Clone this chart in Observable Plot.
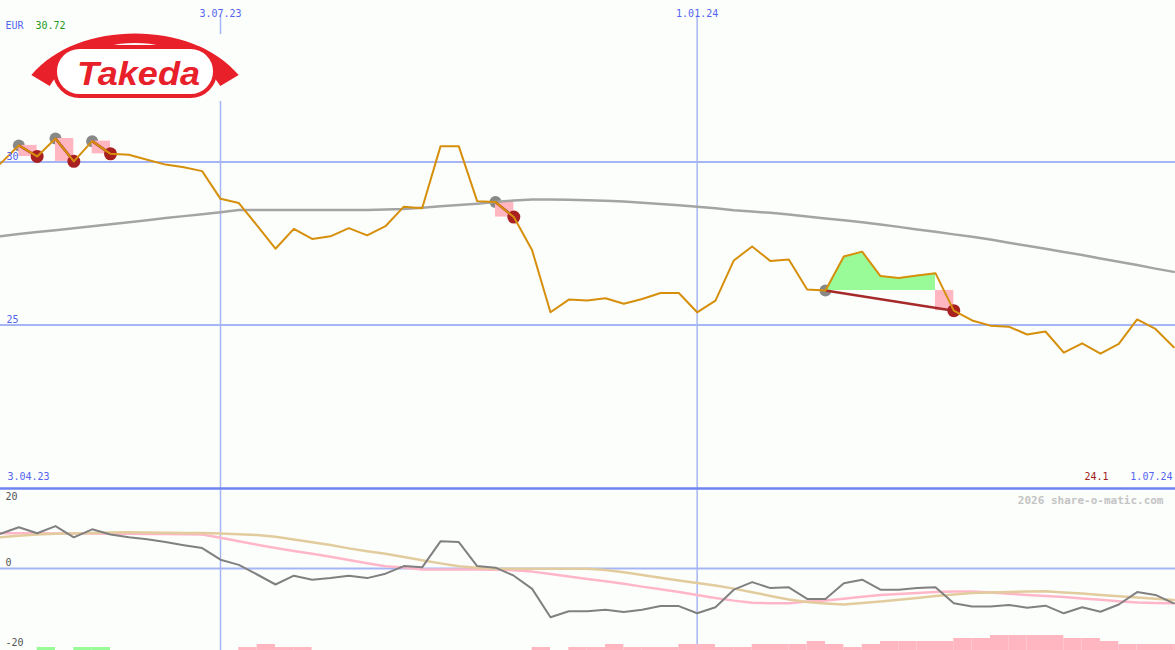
<!DOCTYPE html>
<html><head><meta charset="utf-8">
<script src="https://cdn.jsdelivr.net/npm/d3@7"></script>
<script src="https://cdn.jsdelivr.net/npm/@observablehq/plot@0.6"></script>
<style>
html,body{margin:0;padding:0;background:#fcfefc;width:1175px;height:650px;overflow:hidden}
#chart svg{display:block}
</style></head><body><div id="chart"></div>
<script>
// ---- data (weekly) ----
const startWeek = "2023-04-10";
const price = [29.95,30.51,30.17,30.72,30.02,30.64,30.25,30.22,30.07,29.92,
  29.84,29.72,28.87,28.74,28.05,27.34,27.95,27.64,27.72,27.97,
  27.75,28.03,28.63,28.58,30.48,30.48,28.80,28.77,28.31,27.29,
  25.39,25.78,25.75,25.82,25.65,25.80,25.98,25.98,25.39,25.75,
  26.98,27.41,26.96,27.01,26.09,26.06,27.10,27.25,26.50,26.44,
  26.52,26.59,25.44,25.14,24.98,24.95,24.71,24.80,24.15,24.44,
  24.12,24.42,25.17,24.88,24.32];
const ma200 = [27.72,27.79,27.85,27.91,27.97,28.03,28.09,28.15,28.21,28.28,
  28.34,28.40,28.46,28.53,28.53,28.53,28.53,28.53,28.53,28.53,
  28.53,28.54,28.56,28.60,28.64,28.68,28.72,28.77,28.82,28.85,
  28.85,28.84,28.83,28.81,28.79,28.75,28.71,28.67,28.63,28.58,
  28.52,28.48,28.44,28.39,28.33,28.27,28.21,28.15,28.08,28.01,
  27.93,27.86,27.78,27.71,27.62,27.52,27.43,27.34,27.24,27.15,
  27.04,26.94,26.84,26.73,26.63];
const momentum = [8.7,10.3,8.8,10.6,7.8,9.8,8.5,7.8,7.3,6.6,
  5.8,5.1,2.2,0.9,-1.5,-4.0,-1.8,-2.8,-2.4,-1.8,
  -2.4,-1.3,0.6,0.3,6.8,6.6,0.6,0.2,-1.8,-5.1,
  -12.2,-10.7,-10.7,-10.3,-10.9,-10.3,-9.4,-9.4,-11.2,-9.7,
  -5.3,-3.4,-4.9,-4.7,-7.6,-7.6,-3.7,-2.8,-5.3,-5.3,
  -4.9,-4.7,-8.7,-9.5,-9.5,-9.1,-9.8,-9.3,-11.2,-9.7,
  -10.8,-9.0,-5.9,-6.6,-8.7];
const signalPink = [8.83,8.83,8.8,8.78,8.75,8.73,8.7,8.68,8.65,8.6,
  8.55,8.48,7.68,6.83,5.95,5.15,4.4,3.68,2.95,2.13,
  1.33,0.55,0.25,-0.23,-0.25,-0.25,-0.25,-0.3,-0.43,-0.78,
  -1.35,-1.98,-2.6,-3.2,-3.83,-4.53,-5.2,-5.9,-6.63,-7.4,
  -8.03,-8.55,-8.68,-8.68,-8.25,-8.0,-7.55,-7.08,-6.65,-6.38,
  -6.1,-5.85,-5.75,-5.75,-6.0,-6.33,-6.6,-6.88,-7.15,-7.48,
  -7.8,-8.2,-8.48,-8.6,-8.68];
const signalTan = [7.83,8.2,8.53,8.68,8.78,8.9,9.03,9.08,9.03,8.95,
  8.9,8.85,8.73,8.55,8.35,7.93,7.25,6.55,5.88,5.03,
  4.33,3.7,2.85,2.05,1.28,0.55,0.18,-0.08,-0.08,-0.08,
  -0.08,-0.08,-0.08,-0.35,-0.93,-1.63,-2.3,-3.0,-3.65,-4.25,
  -5.03,-5.93,-6.85,-7.75,-8.38,-8.73,-8.98,-8.6,-8.23,-7.83,
  -7.38,-6.9,-6.5,-6.15,-5.98,-5.88,-5.75,-5.7,-5.98,-6.28,
  -6.63,-6.93,-7.23,-7.55,-7.9];
// bar levels per week: positive = green, negative = pink
const volumeLevels = [0,0,1,0,1,1,0,0,0,0,
  0,0,0,-1,-2,-1,-1,0,0,0,
  0,0,0,0,0,0,0,0,0,-1,
  0,-1,-1,-2,-1,-1,-1,-2,-2,-1,
  -1,-2,-2,-2,-3,-2,-1,-2,-3,-3,
  -3,-3,-4,-4,-5,-5,-5,-5,-4,-4,
  -3,-2,-2,-2,-2];
const entries = [1,3,5,27,45];
const exits   = [2,4,6,28,52];
const gridDates  = ["2023-07-03","2024-01-01"];
const gridLabels = ["3.07.23","1.01.24"];
const priceTicks = [30,25];
const oscTicks = [0,-20];
const oscTop = [20];
const currency = "EUR", highValue = "30.72", lastValue = "24.1";
const rangeStart = "3.04.23", rangeEnd = "1.07.24";
const credit = "2026 share-o-matic.com";

// ---- build ----
const t0 = new Date(startWeek);
const dates = price.map((_, i) => d3.utcDay.offset(t0, 7 * i));
const rows = price.map((p, i) => ({date: dates[i], next: d3.utcDay.offset(dates[i], 7), price: p, ma: ma200[i],
  mom: momentum[i], pink: signalPink[i], tan: signalTan[i], vol: volumeLevels[i]}));
const trades = entries.map((e, k) => ({entry: rows[e], exit: rows[exits[k]], prev: rows[exits[k] - 1]}));
const greenRows = entries.flatMap((e, k) => rows.slice(e, exits[k]).map(r => ({date: r.date, price: r.price, base: rows[e].price, trade: k})));
const grid = gridDates.map(d => new Date(d));

const FONT = "DejaVu Sans Mono";
const BG = "#fcfefc";
const BLUE = "#5464f0", GRID = "#a6b6f4";
const xScale = {type: "utc", domain: [dates[0], dates[dates.length - 1]], range: [0, 1173.3]};
const style = {background: "transparent", overflow: "visible", fontFamily: FONT};

const main = Plot.plot({
  width: 1175, height: 488, marginTop: 0, marginRight: 0, marginBottom: 0, marginLeft: 0,
  style, x: {...xScale, axis: null}, y: {domain: [19.985, 34.954], axis: null},
  marks: [
    Plot.ruleY(priceTicks, {stroke: GRID, strokeWidth: 2}),
    Plot.ruleX(grid, {stroke: GRID, strokeWidth: 1.5, insetTop: 15}),
    Plot.dot(trades, {x: t => t.entry.date, y: t => t.entry.price, r: 6, fill: "#888888"}),
    Plot.rect(trades, {x1: t => t.prev.date, x2: t => t.exit.date, y1: t => t.entry.price, y2: t => t.exit.price, fill: "#ffb6c1"}),
    Plot.areaY(greenRows, {x: "date", y1: "base", y2: "price", z: "trade", fill: "#98fb98"}),
    Plot.line(rows, {x: "date", y: "ma", stroke: "#a4a4a4", strokeWidth: 2.5}),
    Plot.link(trades, {x1: t => t.entry.date, y1: t => t.entry.price, x2: t => t.exit.date, y2: t => t.exit.price, stroke: "#a52a2a", strokeWidth: 2.5}),
    Plot.dot(trades, {x: t => t.exit.date, y: t => t.exit.price, r: 6.5, fill: "#a82020"}),
    Plot.line(rows, {x: "date", y: "price", stroke: "#d68f0a", strokeWidth: 2}),
    Plot.text(grid, {x: d => d, text: (d, i) => gridLabels[i], frameAnchor: "top", dy: 9, fill: BLUE, fontSize: 10}),
    Plot.text(priceTicks, {y: d => d, text: d => String(d), frameAnchor: "left", textAnchor: "start", dx: 6, dy: -5, fill: BLUE, fontSize: 10}),
    Plot.text([currency], {frameAnchor: "top-left", textAnchor: "start", dx: 5, dy: 21, fill: BLUE, fontSize: 10}),
    Plot.text([highValue], {frameAnchor: "top-left", textAnchor: "start", dx: 35, dy: 21, fill: "#229922", fontSize: 10}),
    Plot.text([rangeStart], {frameAnchor: "bottom-left", textAnchor: "start", dx: 7, dy: -9, fill: BLUE, fontSize: 10}),
    Plot.text([lastValue], {frameAnchor: "bottom-right", textAnchor: "end", dx: -67, dy: -9, fill: "#a01818", fontSize: 10}),
    Plot.text([rangeEnd], {frameAnchor: "bottom-right", textAnchor: "end", dx: -3, dy: -9, fill: BLUE, fontSize: 10})
  ]
});

const lower = Plot.plot({
  width: 1175, height: 162, marginTop: 0, marginRight: 0, marginBottom: 0, marginLeft: 0,
  style, x: {...xScale, axis: null}, y: {domain: [-20.5, 20], axis: null},
  marks: [
    Plot.ruleY(oscTicks.filter(d => d === 0), {stroke: GRID, strokeWidth: 2}),
    Plot.ruleX(grid, {stroke: GRID, strokeWidth: 1.5}),
    Plot.rect(rows.filter(r => r.vol > 0), {x1: "date", x2: "next", y1: () => -20.5, y2: r => -20.5 + 0.75 * r.vol, fill: "#98fb98"}),
    Plot.rect(rows.filter(r => r.vol < 0), {x1: "date", x2: "next", y1: () => -20.5, y2: r => -20.5 - 0.75 * r.vol, fill: "#ffb6c1"}),
    Plot.line(rows, {x: "date", y: "pink", stroke: "#ffb6c8", strokeWidth: 2.5}),
    Plot.line(rows, {x: "date", y: "tan", stroke: "#e2cc9e", strokeWidth: 2.5}),
    Plot.line(rows, {x: "date", y: "mom", stroke: "#808080", strokeWidth: 2}),
    Plot.ruleY(oscTop, {stroke: "#6f84f0", strokeWidth: 2.5}),
    Plot.text(oscTicks, {y: d => d, text: d => String(d), frameAnchor: "left", textAnchor: "start", dx: 5, dy: -6, fill: "#555555", fontSize: 10}),
    Plot.text(oscTop, {y: d => d, text: d => String(d), frameAnchor: "left", textAnchor: "start", dx: 5, dy: 8, fill: "#555555", fontSize: 10}),
    Plot.text([credit], {frameAnchor: "top-right", textAnchor: "end", dx: -12, dy: 8, fill: "#c4c4c4", fontSize: 11, fontWeight: "bold"})
  ]
});

const el = document.getElementById("chart");
el.appendChild(main);
el.appendChild(lower);

// ---- Takeda logo ----
const RED = "#e8202a";
const logo = d3.select(main).append("g");
logo.append("rect").attr("x", 30).attr("y", 34).attr("width", 212).attr("height", 67).attr("fill", BG);
logo.append("path")
  .attr("d", "M31.3,75 C55,47 95,33.5 135,33.5 C175,33.5 215,47 238.7,75 L220.3,86 C205,62 175,43 135,43 C95,43 65,62 49.7,86 Z")
  .attr("fill", RED);
logo.append("rect").attr("x", 55).attr("y", 47).attr("width", 160).attr("height", 49).attr("rx", 24.5)
  .attr("fill", "#ffffff").attr("stroke", RED).attr("stroke-width", 4);
logo.append("text").attr("x", 77).attr("y", 85).attr("text-anchor", "start")
  .attr("font-family", "Liberation Sans, Arial, sans-serif").attr("font-weight", 700).attr("font-style", "italic")
  .attr("font-size", 33).attr("textLength", 123).attr("lengthAdjust", "spacingAndGlyphs")
  .attr("fill", RED).text("Takeda");
</script></body></html>
